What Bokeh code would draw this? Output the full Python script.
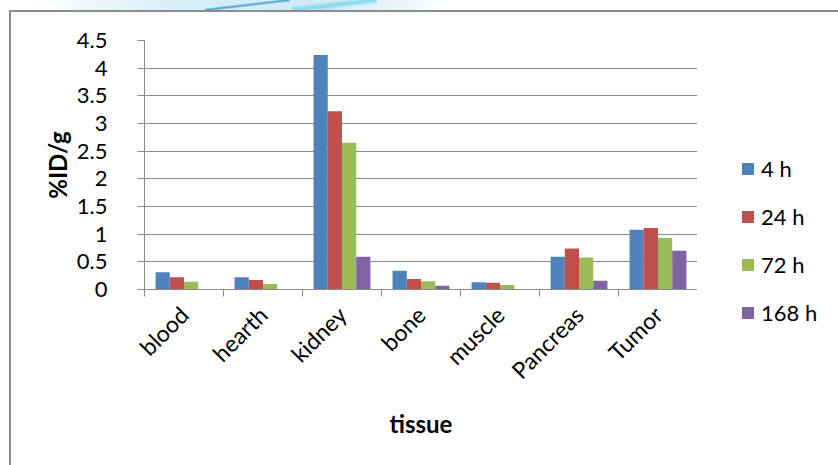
from bokeh.plotting import figure
from bokeh.layouts import row
from bokeh.models import Range1d, FixedTicker, NumeralTickFormatter, Legend, LegendItem
from bokeh.embed import file_html
from bokeh.resources import INLINE

# Biodistribution (%ID/g) per tissue at four time points
tissues = ["blood", "hearth", "kidney", "bone", "muscle", "Pancreas", "Tumor"]
series_names = ["4 h", "24 h", "72 h", "168 h"]
h4 = [0.31, 0.22, 4.24, 0.34, 0.13, 0.59, 1.08]
h24 = [0.22, 0.17, 3.22, 0.19, 0.12, 0.74, 1.11]
h72 = [0.14, 0.10, 2.65, 0.15, 0.08, 0.58, 0.93]
h168 = [0.01, 0.005, 0.59, 0.07, 0.0, 0.16, 0.70]
series = [h4, h24, h72, h168]
colors = ["#4F81BD", "#C0504D", "#9BBB59", "#8064A2"]

FONT = "Lato"
GRID = "#8a8a8a"

n = len(tissues)
p = figure(width=697, height=465, output_backend="svg", toolbar_location=None,
           x_range=Range1d(0, n), y_range=Range1d(0, 4.5),
           min_border_left=144, min_border_right=0, min_border_top=40,
           min_border_bottom=176, background_fill_color="white",
           border_fill_alpha=0, outline_line_color=None)

bar_w = 0.18
offsets = [-0.27, -0.09, 0.09, 0.27]
for vals, col, off in zip(series, colors, offsets):
    xs = [i + 0.5 + off for i in range(n)]
    p.vbar(x=xs, top=vals, width=bar_w, fill_color=col, line_color=None)

# y axis
p.yaxis.ticker = FixedTicker(ticks=[i * 0.5 for i in range(10)])
p.yaxis.formatter = NumeralTickFormatter(format="0.[0]")
p.yaxis.axis_label = "%ID/g"
p.yaxis.axis_label_text_font = FONT
p.yaxis.axis_label_text_font_style = "bold"
p.yaxis.axis_label_text_font_size = "24px"
p.yaxis.axis_label_text_color = "black"
p.yaxis.axis_label_standoff = 2
p.yaxis.major_label_text_font = FONT
p.yaxis.major_label_text_font_size = "22px"
p.yaxis.major_label_text_color = "black"
p.yaxis.major_label_standoff = 30
p.yaxis.major_tick_out = 7
p.yaxis.major_tick_in = 0
p.yaxis.minor_tick_out = 0
p.yaxis.minor_tick_in = 0
p.yaxis.axis_line_color = GRID
p.yaxis.major_tick_line_color = GRID

# x axis: names at category centres, tick marks at category boundaries
p.xaxis.ticker = FixedTicker(ticks=[i + 0.5 for i in range(n)],
                             minor_ticks=list(range(n + 1)))
p.xaxis.major_label_overrides = {i + 0.5: t for i, t in enumerate(tissues)}
p.xaxis.major_label_orientation = 0.785398
p.xaxis.major_label_text_font = FONT
p.xaxis.major_label_text_font_size = "23px"
p.xaxis.major_label_text_color = "black"
p.xaxis.major_label_standoff = 14
p.xaxis.major_tick_out = 0
p.xaxis.major_tick_in = 0
p.xaxis.minor_tick_out = 7
p.xaxis.minor_tick_in = 0
p.xaxis.minor_tick_line_color = GRID
p.xaxis.axis_line_color = GRID
p.xaxis.axis_label = "tissue"
p.xaxis.axis_label_text_font = FONT
p.xaxis.axis_label_text_font_style = "bold"
p.xaxis.axis_label_text_font_size = "24px"
p.xaxis.axis_label_text_color = "black"
p.xaxis.axis_label_standoff = 12

p.xgrid.grid_line_color = None
p.ygrid.ticker = FixedTicker(ticks=[i * 0.5 for i in range(10)])
p.ygrid.grid_line_color = GRID
p.ygrid.grid_line_width = 1

# legend strip to the right of the chart; its one-point keys sit off-range
lg = figure(width=141, height=465, output_backend="svg", toolbar_location=None,
            x_axis_location=None, y_axis_location=None,
            x_range=Range1d(0, 1), y_range=Range1d(0, 1),
            min_border=0, background_fill_alpha=0, border_fill_alpha=0,
            outline_line_color=None)
lg.frame_align = False
lg.grid.visible = False
keys = [lg.vbar(x=[5], top=[5], width=0.1, fill_color=c, line_color=None) for c in colors]
legend = Legend(items=[LegendItem(label=s, renderers=[r]) for s, r in zip(series_names, keys)],
                location=(43, 139), glyph_width=15, glyph_height=15,
                label_text_font=FONT, label_text_font_size="22px",
                label_text_color="black", label_standoff=6, spacing=21,
                padding=0, margin=0, border_line_color=None,
                background_fill_alpha=0)
lg.add_layout(legend, "center")

layout = row(p, lg, spacing=0)

# chart frame and the decorative swoosh above it, painted behind the canvases
layout.styles = {
    "background-color": "white",
    "background-image": ", ".join([
        "linear-gradient(to bottom right, transparent 40%, #4f9fcb 50%, transparent 60%)",
        "linear-gradient(to bottom right, transparent 30%, #7fd8ec 50%, transparent 70%)",
        "linear-gradient(#8c8c8c, #8c8c8c)",
        "linear-gradient(#8c8c8c, #8c8c8c)",
        "linear-gradient(to right, rgba(255,255,255,0), #d6eef8 35%, #cdeaf6 70%, rgba(255,255,255,0))",
    ]),
    "background-size": "85px 10px, 85px 10px, 2px 100%, 100% 2px, 420px 10px",
    "background-position": "205px 0px, 292px 0px, 9px 10px, 9px 10px, 30px 0px",
    "background-repeat": "no-repeat",
}

open("out.html", "w").write(file_html(layout, INLINE))
